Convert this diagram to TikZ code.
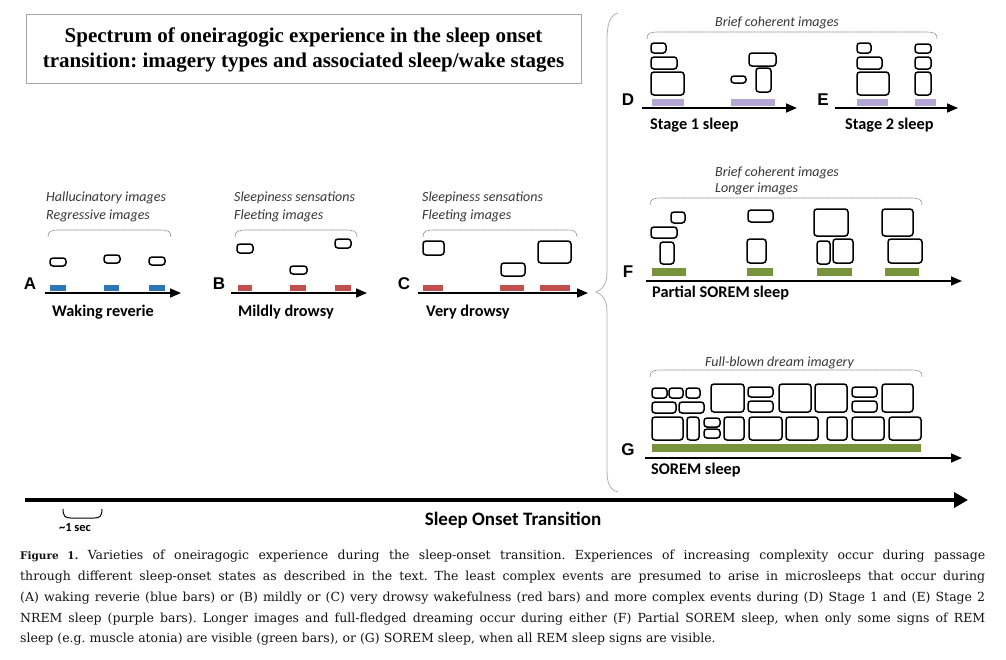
\documentclass[tikz,border=0pt]{standalone}
\usepackage{fontspec}
\setmainfont{DejaVu Serif}
\newfontfamily\labelfont{Carlito}
\newfontfamily\letterfont{Liberation Sans}
\newfontfamily\titlefont{Liberation Serif}
\usetikzlibrary{arrows.meta,calc,positioning}
\definecolor{wakeblue}{HTML}{2E75B6}
\definecolor{drowsyred}{HTML}{C0504D}
\definecolor{nremviolet}{HTML}{B4A7D6}
\definecolor{remgreen}{HTML}{77933C}
\frenchspacing
% grouping brace over a set of images: left x, right x, top y
\newcommand{\imgbrace}[3]{\draw[grouping] (#1,#3+7) .. controls (#1,#3+1) and (#1+3,#3) .. (#1+12,#3) -- (#2-12,#3) .. controls (#2-3,#3) and (#2,#3+1) .. (#2,#3+7);}
\newcommand{\capline}[1]{\makebox[965pt][s]{#1}}

\begin{document}
\begin{tikzpicture}[x=1pt,y=-1pt,
  img/.style={draw=black,line width=1.5pt,rounded corners=3pt},
  timeline/.style={-{Triangle[length=11pt,width=9pt]},line width=1.6pt},
  stagelbl/.style={font=\labelfont\bfseries\fontsize{16.3}{18}\selectfont,anchor=west,inner sep=0pt},
  kindlbl/.style={font=\labelfont\itshape\fontsize{14}{16}\selectfont,anchor=west,inner sep=0pt,text=black!78},
  letter/.style={font=\letterfont\bfseries\fontsize{17}{18}\selectfont,inner sep=0pt},
  grouping/.style={gray,line width=0.6pt,dash pattern=on 1pt off 0.5pt}]
  \useasboundingbox (0,0) rectangle (1006,659);
  \fill[white] (0,0) rectangle (1006,659);

  % title
  \draw[gray!70,line width=0.8pt] (26,14) rectangle (581,83);
  \node[font=\titlefont\bfseries\fontsize{21}{24.5}\selectfont,align=center] (title) at (303.5,50)
    {Spectrum of oneiragogic experience in the sleep onset\\transition: imagery types and associated sleep/wake stages};

  % A: waking reverie
  \node[letter] (lA) at (30,284) {A};
  \coordinate (a0) at (45,293); \coordinate (a1) at (181,293);
  \foreach \l/\r in {50/66,104/119,149/165} \fill[wakeblue] (\l,285) rectangle (\r,291);
  \draw[timeline] (a0) -- (a1);
  \foreach \x/\y/\u/\v in {50/258/66/266,104/255/120/263,149/257/165/265} \draw[img] (\x,\y) rectangle (\u,\v);
  \node[kindlbl] (kA1) at (46,198) {Hallucinatory images};
  \node[kindlbl] (kA2) at (46,216) {Regressive images};
  \imgbrace{48}{171}{230}
  \node[stagelbl] (sA) at (52,312) {Waking reverie};

  % B: mildly drowsy
  \node[letter] (lB) at (219,284) {B};
  \coordinate (b0) at (231,293); \coordinate (b1) at (367,293);
  \foreach \l/\r in {238/252,290/306,335/351} \fill[drowsyred] (\l,285) rectangle (\r,291);
  \draw[timeline] (b0) -- (b1);
  \foreach \x/\y/\u/\v in {237/244/253/253,290/266/307/274,335/239/351/248} \draw[img] (\x,\y) rectangle (\u,\v);
  \node[kindlbl] (kB1) at (234,198) {Sleepiness sensations};
  \node[kindlbl] (kB2) at (234,216) {Fleeting images};
  \imgbrace{235}{357}{230}
  \node[stagelbl] (sB) at (238,312) {Mildly drowsy};

  % C: very drowsy
  \node[letter] (lC) at (404,284) {C};
  \coordinate (c0) at (418,293); \coordinate (c1) at (588,293);
  \foreach \l/\r in {423/443,500/524,540/570} \fill[drowsyred] (\l,285) rectangle (\r,291);
  \draw[timeline] (c0) -- (c1);
  \foreach \x/\y/\u/\v in {423/241/444/255,501/263/525/276,538/241/571/263} \draw[img] (\x,\y) rectangle (\u,\v);
  \node[kindlbl] (kC1) at (422,198) {Sleepiness sensations};
  \node[kindlbl] (kC2) at (422,216) {Fleeting images};
  \imgbrace{423}{577}{230}
  \node[stagelbl] (sC) at (426,312) {Very drowsy};

  % large brace opening onto the sleep stages
  \draw[gray!60,line width=0.8pt] (618,13) .. controls (610,15) and (607,24) .. (607,40) -- (607,272)
    .. controls (607,286) and (601,290) .. (596,292) .. controls (601,294) and (607,298) .. (607,312)
    -- (607,470) .. controls (607,484) and (610,490) .. (618,492);

  % D and E: stage 1 / stage 2
  \node[kindlbl] (kD) at (715,23) {Brief coherent images};
  \imgbrace{647}{937}{32}
  \node[letter] (lD) at (628,100) {D};
  \coordinate (d0) at (642,108); \coordinate (d1) at (797,108);
  \foreach \l/\r in {652/684,731/775} \fill[nremviolet] (\l,99) rectangle (\r,106);
  \draw[timeline] (d0) -- (d1);
  \foreach \x/\y/\u/\v in {651/43/666/53,651/57/677/69,651/72/684/95,731/76/746/83,749/53/776/66,756/68/771/92}
    \draw[img] (\x,\y) rectangle (\u,\v);
  \node[stagelbl] (sD) at (650,125) {Stage 1 sleep};
  \node[letter] (lE) at (823,100) {E};
  \coordinate (e0) at (835,108); \coordinate (e1) at (958,108);
  \foreach \l/\r in {857/888,915/936} \fill[nremviolet] (\l,99) rectangle (\r,106);
  \draw[timeline] (e0) -- (e1);
  \foreach \x/\y/\u/\v in {857/43/871/53,857/57/882/69,857/72/889/95,915/44/931/53,915/57/931/69,915/72/931/95}
    \draw[img] (\x,\y) rectangle (\u,\v);
  \node[stagelbl] (sE) at (845,125) {Stage 2 sleep};

  % F: partial SOREM
  \node[kindlbl] (kF1) at (715,173) {Brief coherent images};
  \node[kindlbl] (kF2) at (715,189) {Longer images};
  \imgbrace{650}{922}{198}
  \node[letter] (lF) at (628,272) {F};
  \coordinate (f0) at (646,281); \coordinate (f1) at (962,281);
  \foreach \l/\r in {652/686,747/773,817/852,885/919} \fill[remgreen] (\l,268) rectangle (\r,276);
  \draw[timeline] (f0) -- (f1);
  \foreach \x/\y/\u/\v in {671/212/685/223,651/227/677/238,660/242/674/264,748/210/773/222,747/239/766/263,
      814/209/848/236,817/241/830/264,833/239/853/263,882/209/913/236,888/239/922/263}
    \draw[img] (\x,\y) rectangle (\u,\v);
  \node[stagelbl] (sF) at (652,293) {Partial SOREM sleep};

  % G: SOREM
  \node[kindlbl] (kG) at (705,363) {Full-blown dream imagery};
  \imgbrace{650}{922}{370}
  \node[letter] (lG) at (628,450) {G};
  \coordinate (g0) at (645,458); \coordinate (g1) at (962,458);
  \fill[remgreen] (652,444) rectangle (921,452);
  \draw[timeline] (g0) -- (g1);
  \foreach \x/\y/\u/\v in {652/388/667/398,669/388/683/398,686/388/700/398,652/402/676/413,679/402/704/413,
      652/417/683/440,687/417/699/440,704/418/720/427,704/429/720/438,724/417/744/440,749/417/782/440,
      786/417/818/440,827/417/847/440,852/417/884/440,889/417/921/440,
      711/384/744/412,748/387/773/397,748/401/773/412,779/384/811/412,815/384/847/412,
      852/387/877/397,852/401/877/412,882/384/913/412}
    \draw[img] (\x,\y) rectangle (\u,\v);
  \node[stagelbl] (sG) at (651,470) {SOREM sleep};

  % overall transition axis
  \coordinate (t0) at (25,500); \coordinate (t1) at (968,500);
  \draw[-{Triangle[length=14pt,width=15pt]},line width=4.5pt] (t0) -- (t1);
  \draw[line width=1pt] (63,509) .. controls (63,516) and (65,518) .. (71,518) -- (94,518)
    .. controls (100,518) and (102,516) .. (102,509);
  \node[font=\labelfont\bfseries\fontsize{12.5}{13}\selectfont,inner sep=0pt] (sec) at (75,527) {\textasciitilde1 sec};
  \node[font=\labelfont\bfseries\fontsize{19}{20}\selectfont,inner sep=0pt] (trans) at (513,520) {Sleep Onset Transition};

  % caption
  \node[anchor=north west,inner sep=0pt,align=left,font=\fontsize{12.5}{20.8}\selectfont,text=black!92] (cap) at (20,550)
    {\capline{{\fontsize{10.5}{12}\selectfont\bfseries Figure 1.} Varieties of oneiragogic experience during the sleep-onset transition. Experiences of increasing complexity occur during passage}\\
     \capline{through different sleep-onset states as described in the text. The least complex events are presumed to arise in microsleeps that occur during}\\
     \capline{(A) waking reverie (blue bars) or (B) mildly or (C) very drowsy wakefulness (red bars) and more complex events during (D) Stage 1 and (E) Stage 2}\\
     \capline{NREM sleep (purple bars). Longer images and full-fledged dreaming occur during either (F) Partial SOREM sleep, when only some signs of REM}\\
     sleep (e.g. muscle atonia) are visible (green bars), or (G) SOREM sleep, when all REM sleep signs are visible.};
\end{tikzpicture}
\end{document}
